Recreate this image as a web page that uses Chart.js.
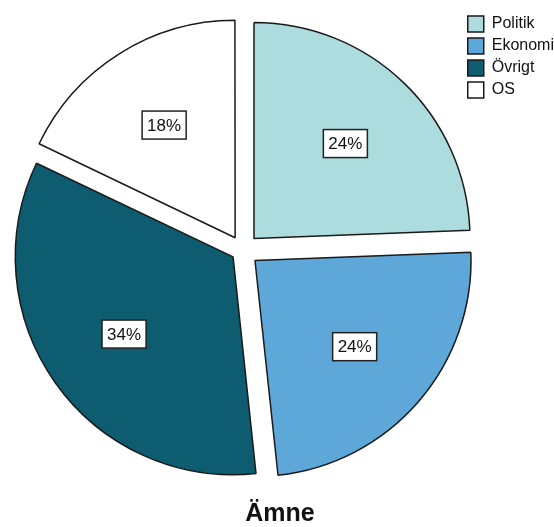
<!DOCTYPE html>
<html lang="sv">
<head>
<meta charset="utf-8">
<title>Ämne</title>
<script src="https://cdn.jsdelivr.net/npm/chart.js@4/dist/chart.umd.min.js"></script>
<style>
  html, body { margin: 0; padding: 0; background: #ffffff; }
  #chart-box { width: 554px; height: 527px; position: relative; }
</style>
</head>
<body>
<div id="chart-box"><canvas id="my-chart"></canvas></div>
<script>
'use strict';

// ********** Data **********

let categories = ['Politik', 'Ekonomi', 'Övrigt', 'OS'];
let shares = [24.4, 23.9, 33.8, 17.9];
let sliceColors = ['#acdcdd', '#5ea7d9', '#0d5c6f', '#ffffff'];
let sliceOffsets = [64, 64, 48, 58];
let chartTitle = 'Ämne';

let fontFamily = '"Liberation Sans", Arial, sans-serif';

// ********** Percent label plugin **********

let percentLabels = {
  id: 'percentLabels',
  afterLayout(chart) {
    // title sits a bit right of the canvas middle, like the original
    let t = chart.titleBlock;
    t.left = 0;
    t.right = 560;
    t.width = 560;
  },
  afterDatasetsDraw(chart) {
    let ctx = chart.ctx;
    let meta = chart.getDatasetMeta(0);
    let total = shares.reduce((a, b) => a + b, 0);

    ctx.save();
    ctx.font = '17px ' + fontFamily;
    ctx.textAlign = 'center';
    ctx.textBaseline = 'middle';

    meta.data.forEach((arc, i) => {
      let p = arc.getProps(['x', 'y', 'startAngle', 'endAngle', 'outerRadius', 'circumference']);
      let mid = (p.startAngle + p.endAngle) / 2;
      // same shift that the arc element uses for its offset
      let off = (arc.options.offset || 0) / 4;
      let fix = 1 - Math.sin(Math.min(Math.PI, p.circumference || 0));
      let shift = off + off * fix;
      let dist = shift + p.outerRadius * 0.61;
      let lx = p.x + Math.cos(mid) * dist;
      let ly = p.y + Math.sin(mid) * dist;

      let text = Math.round(shares[i] / total * 100) + '%';
      let w = ctx.measureText(text).width + 10;
      let h = 28;

      ctx.fillStyle = '#ffffff';
      ctx.fillRect(lx - w / 2, ly - h / 2, w, h);
      ctx.strokeStyle = '#222222';
      ctx.lineWidth = 1.5;
      ctx.strokeRect(lx - w / 2, ly - h / 2, w, h);
      ctx.fillStyle = '#111111';
      ctx.fillText(text, lx, ly + 1);
    });
    ctx.restore();
  }
};

// ********** Chart **********

let canvasElem = document.getElementById('my-chart');

let myObj = {
  type: 'pie',
  data: {
    labels: categories,
    datasets: [{
      data: shares,
      backgroundColor: sliceColors,
      borderColor: '#1a1a1a',
      borderWidth: 1.5,
      offset: sliceOffsets,
      clip: false
    }]
  },
  options: {
    responsive: true,
    maintainAspectRatio: false,
    animation: false,
    events: [],
    radius: 216,
    layout: {
      padding: { left: 24, right: -10, top: 10, bottom: 0 }
    },
    plugins: {
      legend: {
        position: 'right',
        align: 'start',
        labels: {
          boxWidth: 16,
          boxHeight: 16,
          padding: 6,
          color: '#111111',
          font: { family: fontFamily, size: 16 }
        }
      },
      title: {
        display: true,
        position: 'bottom',
        text: chartTitle,
        color: '#111111',
        font: { family: fontFamily, size: 25, weight: 'bold', lineHeight: 1 },
        padding: { top: 12, bottom: 0 }
      },
      tooltip: { enabled: false }
    }
  },
  plugins: [percentLabels]
};

new Chart(canvasElem, myObj);
</script>
</body>
</html>
